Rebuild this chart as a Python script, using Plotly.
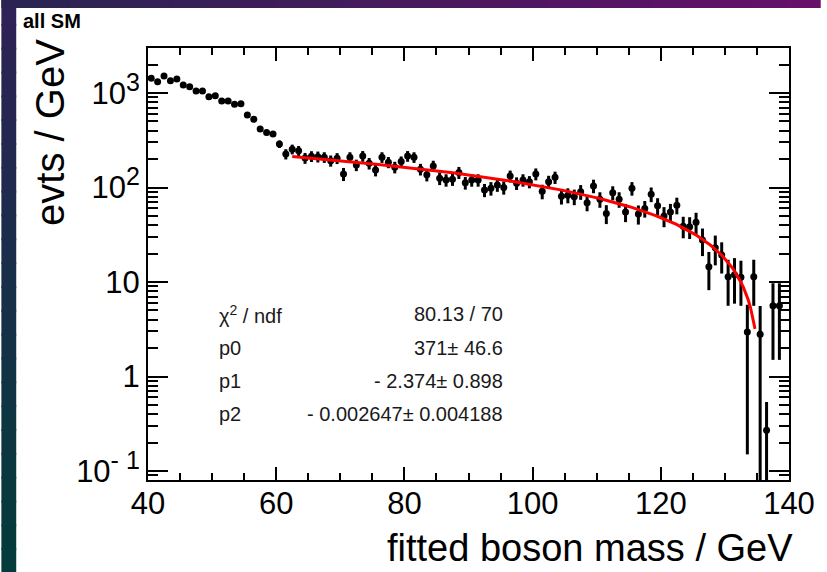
import numpy as np
import plotly.graph_objects as go

# ---------------- data ----------------
bin_centers = [40.5 + i for i in range(99)]
values = [
    1431, 1317, 1513, 1349, 1406, 1215, 1166, 1050, 1050, 914,
    936, 823, 823, 759, 771, 585, 527, 416, 383, 368,
    288, 226, 254, 245, 205, 214, 212, 209, 192, 204,
    139, 209, 173, 215, 180, 153, 209, 185, 164, 188,
    215, 209, 156, 136, 169, 125, 120, 122, 144, 112,
    120, 120, 94, 98, 106, 100, 132, 111, 120, 115,
    139, 91, 115, 128, 81, 83, 80, 90, 69, 104,
    75, 53, 88, 75, 55, 98, 52.5, 60, 85, 64,
    50, 55, 65, 39, 38.5, 43, 27.8, 14.5, 23, 19.3,
    11.4, 11.9, 11.2, 2.95, 11.4, 2.8, 0.27, 5.6, 5.6,
]
errors = [
    50, 48, 52, 48, 50, 45, 44, 42, 42, 38,
    38, 35, 35, 33, 33, 30, 28, 26, 25, 25,
    26, 28, 30, 30, 27, 28, 28, 27, 26, 27,
    22, 27, 24, 28, 25, 22, 27, 25, 23, 25,
    28, 27, 22, 20, 23, 19, 18, 18, 21, 17,
    18, 18, 15, 16, 16, 16, 19, 17, 18, 17,
    20, 16, 18, 19, 15, 15, 15, 16, 13, 17,
    14, 12, 15, 14, 12, 16, 12, 12, 15, 13,
    12, 12, 13, 10, 10, 11, 9, 6.3, 8, 7,
    5.8, 6, 5.6, 2.8, 5.8, 2.79, 0.269, 4.1, 4.1,
]

# fit result (pol2) as printed in the stats box
fit_params = [371.0, -2.374, -0.002647]
fit_range = [62.5, 134.7]
stat_labels = ["\u03c7<sup>2</sup> / ndf", "p0", "p1", "p2"]
stat_values = ["80.13 / 70", "371\u00b1 46.6", "- 2.374\u00b1 0.898", "- 0.002647\u00b1 0.004188"]

x_ticks = [40, 60, 80, 100, 120, 140]
y_ticks = [0.1, 1, 10, 100, 1000]
SUP = "<sup><span style='font-size:25px'>%s</span></sup>"
y_ticktext = ["10" + SUP % "- 1", "1", "10", "10" + SUP % "2", "10" + SUP % "3"]

# ---------------- geometry ----------------
W, H = 827, 572
L, R, T, B = 148, 795, 48, 480
pw, ph = R - L, B - T


def px(x):
    return (x - L) / pw


def py(y):
    return (B - y) / ph


FONT = "Liberation Sans, Arial, Helvetica, sans-serif"

fig = go.Figure()

xf = np.linspace(fit_range[0], fit_range[1], 200)
yf = fit_params[0] + fit_params[1] * xf + fit_params[2] * xf ** 2

fig.add_trace(go.Scatter(
    x=bin_centers, y=values, mode="markers",
    marker=dict(color="black", size=7),
    error_y=dict(type="data", array=errors, color="black", thickness=3, width=0),
    showlegend=False, hoverinfo="x+y",
))
fig.add_trace(go.Scatter(
    x=xf, y=yf, mode="lines", line=dict(color="#ff0000", width=3),
    showlegend=False,
))

# ---------------- slide background ----------------
shapes = []
shapes.append(dict(type="rect", xref="paper", yref="paper",
                   x0=px(0), x1=px(W), y0=py(H), y1=py(0),
                   fillcolor="#ffffff", line=dict(width=0), layer="below"))
nb = 24
c_top = np.array([0x2e, 0x22, 0x56])
c_bot = np.array([0x04, 0x3c, 0x3c])
for i in range(nb):
    f = i / (nb - 1)
    c = (c_top * (1 - f) + c_bot * f).astype(int)
    shapes.append(dict(type="rect", xref="paper", yref="paper",
                       x0=px(0), x1=px(15), y0=py(min(H, H * (i + 1) / nb + 2)), y1=py(H * i / nb),
                       fillcolor="rgb(%d,%d,%d)" % tuple(c), line=dict(width=0), layer="below"))
c_l = np.array([0x2a, 0x24, 0x52])
c_r = np.array([0x66, 0x10, 0x6a])
for i in range(nb):
    f = i / (nb - 1)
    c = (c_l * (1 - f) + c_r * f).astype(int)
    shapes.append(dict(type="rect", xref="paper", yref="paper",
                       x0=px(W * i / nb), x1=px(min(W, W * (i + 1) / nb + 2)), y0=py(8), y1=py(0),
                       fillcolor="rgb(%d,%d,%d)" % tuple(c), line=dict(width=0), layer="below"))

annotations = []
annotations.append(dict(text="<b>all SM</b>", xref="paper", yref="paper",
                        x=px(20), y=py(21), xanchor="left", yanchor="middle",
                        showarrow=False, font=dict(family=FONT, size=20, color="black")))
annotations.append(dict(text="evts / GeV", xref="paper", yref="paper",
                        x=px(49), y=py(132), xanchor="center", yanchor="middle", textangle=-90,
                        showarrow=False, font=dict(family=FONT, size=40, color="black")))
annotations.append(dict(text="fitted boson mass / GeV", xref="paper", yref="paper",
                        x=px(801), y=py(548), xanchor="right", yanchor="middle",
                        showarrow=False, font=dict(family=FONT, size=38, color="black")))
row_y = [314, 348, 381, 414]
for lab, val, yy in zip(stat_labels, stat_values, row_y):
    annotations.append(dict(text=lab, xref="paper", yref="paper", x=px(218), y=py(yy),
                            xanchor="left", yanchor="middle", showarrow=False,
                            font=dict(family=FONT, size=20, color="#1a1a1a")))
    annotations.append(dict(text=val, xref="paper", yref="paper", x=px(508), y=py(yy),
                            xanchor="right", yanchor="middle", showarrow=False,
                            font=dict(family=FONT, size=20, color="#1a1a1a")))

y_minor = [m * 10 ** e for e in range(-2, 4) for m in range(2, 10)]

fig.update_layout(
    width=W, height=H,
    margin=dict(l=L, r=W - R, t=T, b=H - B, pad=0),
    paper_bgcolor="#ffffff", plot_bgcolor="#ffffff",
    shapes=shapes, annotations=annotations,
    xaxis=dict(range=[40, 140], tickvals=x_ticks, ticks="inside", ticklen=13, tickwidth=2,
               tickcolor="black", showline=True, linewidth=2, linecolor="black", mirror="ticks",
               showgrid=False, zeroline=False, ticklabelstandoff=-5,
               tickfont=dict(family=FONT, size=31, color="black"),
               minor=dict(dtick=5, ticks="inside", ticklen=7, tickwidth=2, tickcolor="black", showgrid=False)),
    yaxis=dict(type="log", range=[-1.095, 3.476], tickvals=y_ticks, ticktext=y_ticktext,
               ticks="inside", ticklen=20, tickwidth=2, tickcolor="black",
               showline=True, linewidth=2, linecolor="black", mirror="ticks",
               showgrid=False, zeroline=False,
               tickfont=dict(family=FONT, size=31, color="black"),
               minor=dict(tickvals=y_minor, ticks="inside", ticklen=10, tickwidth=2, tickcolor="black", showgrid=False)),
)

fig.write_html("out.html")
